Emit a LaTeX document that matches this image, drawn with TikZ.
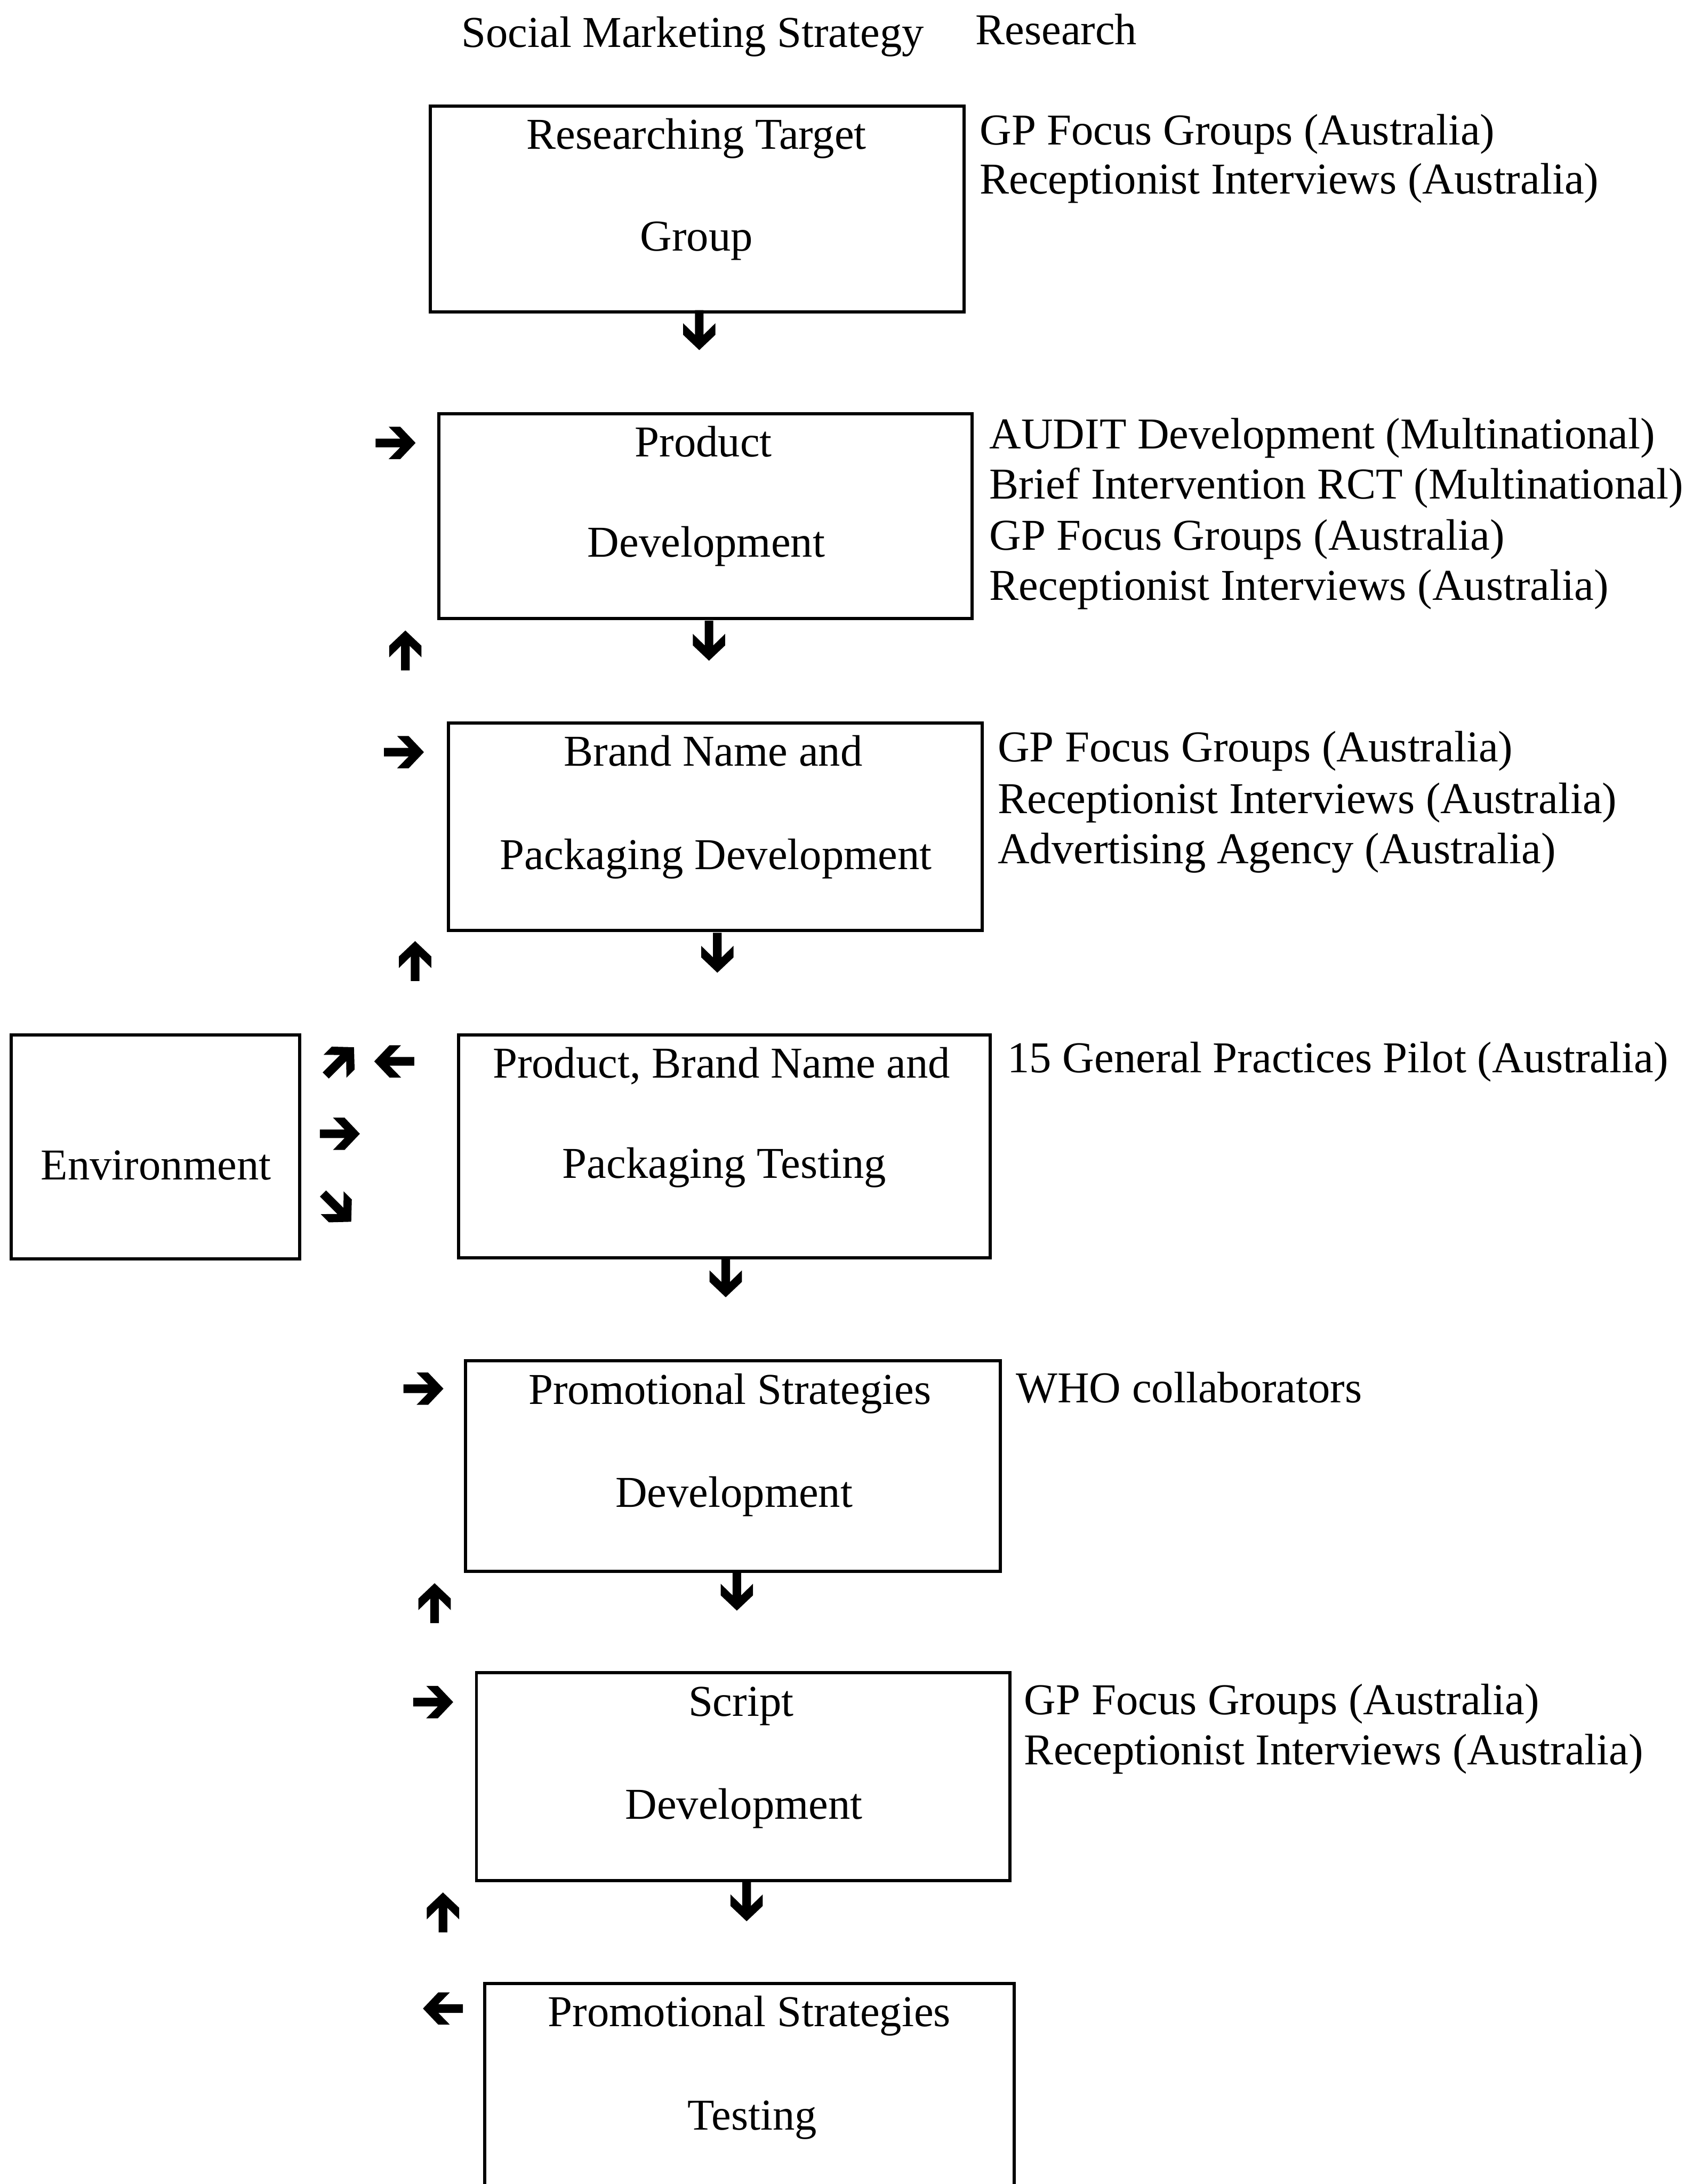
\documentclass[tikz,border=0pt]{standalone}
\usepackage{fontspec}
\setmainfont{Liberation Serif}
\tikzset{
  box/.style={draw, line width=1.3pt, inner sep=0pt},
  txt/.style={anchor=base, inner sep=0pt, font=\fontsize{18}{20}\selectfont},
  note/.style={anchor=base west, inner sep=0pt, font=\fontsize{18}{20}\selectfont},
  % bold chevron arrow pointing right, centred on the pic origin
  arw/.pic={\fill[shift={(-14.35,0)}] (0,3.1) -- (17.7,3.1) -- (9.4,11.6) -- (17.7,11.6)
      -- (28.7,0) -- (17.7,-11.6) -- (9.4,-11.6) -- (17.7,-3.1) -- (0,-3.1) -- cycle;}
}
\begin{document}
\begin{tikzpicture}[x=0.02cm,y=0.02cm]
\useasboundingbox (0,0) rectangle (1221,-1568);
\clip (0,0) rectangle (1221,-1568);
\fill[white] (0,0) rectangle (1221,-1568);

% column headings
\node[note] (h1) at (331,-34) {Social Marketing Strategy};
\node[note] (h2) at (700,-32) {Research};

% strategy boxes
\node[box, minimum width=7.66cm, minimum height=2.96cm] (b1) at (500.5,-150) {};
\node[box, minimum width=7.66cm, minimum height=2.94cm] (b2) at (506.5,-370.5) {};
\node[box, minimum width=7.66cm, minimum height=2.98cm] (b3) at (513.5,-593.5) {};
\node[box, minimum width=7.64cm, minimum height=3.20cm] (b4) at (520,-823) {};
\node[box, minimum width=7.68cm, minimum height=3.02cm] (b5) at (526,-1052.5) {};
\node[box, minimum width=7.66cm, minimum height=2.98cm] (b6) at (533.5,-1275.5) {};
\node[box, minimum width=7.60cm, minimum height=3.52cm] (b7) at (538,-1512) {};
\node[box, minimum width=4.14cm, minimum height=3.22cm] (env) at (111.5,-823.5) {};

% box captions
\node[txt] (b1a) at (500,-107) {Researching Target};
\node[txt] (b1b) at (500,-180) {Group};
\node[txt] (b2a) at (505,-328) {Product};
\node[txt] (b2b) at (507,-400) {Development};
\node[txt] (b3a) at (512,-550) {Brand Name and};
\node[txt] (b3b) at (514,-624) {Packaging Development};
\node[txt] (b4a) at (518,-774) {Product, Brand Name and};
\node[txt] (b4b) at (520,-846) {Packaging Testing};
\node[txt] (b5a) at (524,-1008) {Promotional Strategies};
\node[txt] (b5b) at (527,-1082) {Development};
\node[txt] (b6a) at (532,-1232) {Script};
\node[txt] (b6b) at (534,-1306) {Development};
\node[txt] (b7a) at (538,-1455) {Promotional Strategies};
\node[txt] (b7b) at (540,-1529) {Testing};
\node[txt] (enva) at (112,-847) {Environment};

% research activities
\node[note] (r1a) at (703,-104) {GP Focus Groups (Australia)};
\node[note] (r1b) at (703,-139) {Receptionist Interviews (Australia)};
\node[note] (r2a) at (710,-322) {AUDIT Development (Multinational)};
\node[note] (r2b) at (710,-358) {Brief Intervention RCT (Multinational)};
\node[note] (r2c) at (710,-395) {GP Focus Groups (Australia)};
\node[note] (r2d) at (710,-431) {Receptionist Interviews (Australia)};
\node[note] (r3a) at (716,-547) {GP Focus Groups (Australia)};
\node[note] (r3b) at (716,-584) {Receptionist Interviews (Australia)};
\node[note] (r3c) at (716,-620) {Advertising Agency (Australia)};
\node[note] (r4a) at (723,-770) {15 General Practices Pilot (Australia)};
\node[note] (r5a) at (729,-1007) {WHO collaborators};
\node[note] (r6a) at (735,-1231) {GP Focus Groups (Australia)};
\node[note] (r6b) at (735,-1267) {Receptionist Interviews (Australia)};

% downward arrows between the stages
\pic[rotate=-90] at (502,-237) {arw};
\pic[rotate=-90] at (509,-460) {arw};
\pic[rotate=-90] at (515,-684) {arw};
\pic[rotate=-90] at (521,-917) {arw};
\pic[rotate=-90] at (529,-1142) {arw};
\pic[rotate=-90] at (536,-1365) {arw};

% feedback arrows on the left
\pic at (284,-318) {arw};
\pic at (290,-540) {arw};
\pic at (304,-997) {arw};
\pic at (311,-1222) {arw};
\pic[rotate=90] at (291,-467) {arw};
\pic[rotate=90] at (298,-690) {arw};
\pic[rotate=90] at (312,-1151) {arw};
\pic[rotate=90] at (318,-1373) {arw};
\pic[rotate=180] at (283,-762) {arw};
\pic[rotate=180] at (318,-1442) {arw};

% arrows to and from the environment
\pic[rotate=45] at (244,-762) {arw};
\pic at (244,-814) {arw};
\pic[rotate=-45] at (242,-867) {arw};
\end{tikzpicture}
\end{document}
